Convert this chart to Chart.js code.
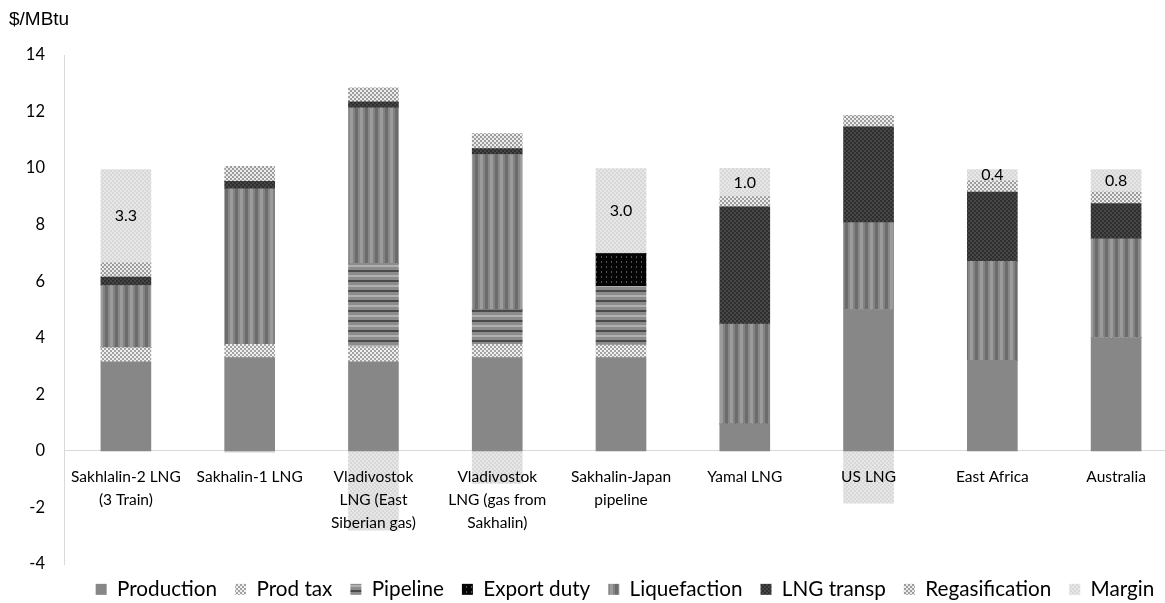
<!DOCTYPE html>
<html>
<head>
<meta charset="utf-8">
<script src="https://cdn.jsdelivr.net/npm/chart.js@4"></script>
<style>
  html, body { margin: 0; padding: 0; background: #fff; overflow: hidden; }
  #wrap { width: 1180px; height: 603px; }
</style>
</head>
<body>
<div id="wrap"><canvas id="costChart" width="1180" height="603"></canvas></div>
<script>
const categories = [
  ["Sakhlalin-2 LNG", "(3 Train)"],
  "Sakhalin-1 LNG",
  ["Vladivostok", "LNG (East", "Siberian gas)"],
  ["Vladivostok", "LNG (gas from", "Sakhalin)"],
  ["Sakhalin-Japan", "pipeline"],
  "Yamal LNG",
  "US LNG",
  "East Africa",
  "Australia",
];

const production   = [3.15, 3.3, 3.15, 3.3, 3.3, 0.95, 5.0, 3.2, 4.0];
const prodTax      = [0.5, 0.47, 0.53, 0.47, 0.44, 0, 0, 0, 0];
const pipeline     = [0, 0, 2.95, 1.23, 2.08, 0, 0, 0, 0];
const exportDuty   = [0, 0, 0, 0, 1.16, 0, 0, 0, 0];
const liquefaction = [2.2, 5.5, 5.5, 5.48, 0, 3.53, 3.07, 3.5, 3.5];
const lngTransp    = [0.3, 0.26, 0.21, 0.21, 0, 4.15, 3.39, 2.45, 1.25];
const regas        = [0.5, 0.53, 0.5, 0.53, 0, 0.36, 0.41, 0.4, 0.4];
const margin       = [3.3, -0.05, -2.8, -1.15, 3.0, 1.0, -1.85, 0.4, 0.8];

const yTicks = [-4, -2, 0, 2, 4, 6, 8, 10, 12, 14];

// small tile -> canvas pattern
function makePattern(w, h, draw) {
  const c = document.createElement("canvas");
  c.width = w; c.height = h;
  const g = c.getContext("2d");
  draw(g);
  return g.createPattern(c, "repeat");
}

function checker(size, a, b) {
  return makePattern(size * 2, size * 2, (g) => {
    g.fillStyle = a; g.fillRect(0, 0, size * 2, size * 2);
    g.fillStyle = b;
    g.fillRect(0, 0, size, size);
    g.fillRect(size, size, size, size);
  });
}

const fills = {
  production: "#878787",
  prodTax: checker(2, "#f0f0f0", "#a2a2a2"),
  pipeline: makePattern(4, 10, (g) => {
    g.fillStyle = "#8c8c8c"; g.fillRect(0, 0, 4, 10);
    g.fillStyle = "#4a4a4a"; g.fillRect(0, 0, 4, 2);
    g.fillStyle = "#b0b0b0"; g.fillRect(0, 5, 4, 2);
  }),
  exportDuty: makePattern(5, 5, (g) => {
    g.fillStyle = "#050505"; g.fillRect(0, 0, 5, 5);
    g.fillStyle = "#555555"; g.fillRect(1, 1, 1, 2);
  }),
  liquefaction: makePattern(10, 4, (g) => {
    g.fillStyle = "#9c9c9c"; g.fillRect(0, 0, 3, 4);
    g.fillStyle = "#828282"; g.fillRect(3, 0, 2, 4);
    g.fillStyle = "#6c6c6c"; g.fillRect(5, 0, 3, 4);
    g.fillStyle = "#888888"; g.fillRect(8, 0, 2, 4);
  }),
  lngTransp: checker(2, "#474747", "#2e2e2e"),
  regas: checker(2, "#ececec", "#9c9c9c"),
  margin: checker(2, "#e6e6e6", "#d8d8d8"),
};

const seriesList = [
  { label: "Production", data: production, fill: fills.production },
  { label: "Prod tax", data: prodTax, fill: fills.prodTax },
  { label: "Pipeline", data: pipeline, fill: fills.pipeline },
  { label: "Export duty", data: exportDuty, fill: fills.exportDuty },
  { label: "Liquefaction", data: liquefaction, fill: fills.liquefaction },
  { label: "LNG transp", data: lngTransp, fill: fills.lngTransp },
  { label: "Regasification", data: regas, fill: fills.regas },
  { label: "Margin", data: margin, fill: fills.margin },
];

// title "$/MBtu" in the top-left corner
const unitTitle = {
  id: "unitTitle",
  afterDraw(chart) {
    const ctx = chart.ctx;
    ctx.save();
    ctx.font = "19px 'Liberation Sans', Arial, sans-serif";
    ctx.fillStyle = "#000";
    ctx.textBaseline = "alphabetic";
    ctx.textAlign = "left";
    ctx.fillText("$/MBtu", 9, 25);
    ctx.restore();
  },
};

// value labels inside the positive margin segments
const marginLabels = {
  id: "marginLabels",
  afterDatasetsDraw(chart) {
    const idx = seriesList.length - 1;
    const meta = chart.getDatasetMeta(idx);
    const ctx = chart.ctx;
    ctx.save();
    ctx.font = "16px Lato, sans-serif";
    ctx.fillStyle = "#000";
    ctx.textAlign = "center";
    ctx.textBaseline = "middle";
    meta.data.forEach((bar, i) => {
      const v = margin[i];
      if (v <= 0) return;
      ctx.fillText(v.toFixed(1), bar.x, (bar.y + bar.base) / 2);
    });
    ctx.restore();
  },
};

// nudge the legend so it sits where the original one does
const legendShift = {
  id: "legendShift",
  afterLayout(chart) {
    const lg = chart.legend;
    lg.left += 36; lg.right += 36;
    lg.top -= 3; lg.bottom -= 3;
  },
};

document.addEventListener("DOMContentLoaded", () => {
  const ctx = document.getElementById("costChart").getContext("2d");
  new Chart(ctx, {
    type: "bar",
    data: {
      labels: categories,
      datasets: seriesList.map((s) => ({
        label: s.label,
        data: s.data,
        backgroundColor: s.fill,
        borderWidth: 0,
        barThickness: 50,
      })),
    },
    options: {
      responsive: false,
      animation: false,
      layout: { padding: { top: 55, left: 0, right: 2, bottom: 0 } },
      plugins: {
        legend: {
          position: "bottom",
          maxHeight: 39,
          labels: {
            boxWidth: 11,
            boxHeight: 11,
            padding: 18,
            color: "#000",
            font: { family: "Lato, sans-serif", size: 20.7 },
          },
        },
        tooltip: { enabled: false },
      },
      scales: {
        x: {
          stacked: true,
          position: { y: 0 },
          grid: { display: false, drawTicks: false },
          border: { display: true, color: "#d9d9d9", width: 1 },
          ticks: {
            z: 1,
            color: "#000",
            padding: 14,
            maxRotation: 0,
            autoSkip: false,
            font: { family: "Lato, sans-serif", size: 15.5, lineHeight: 1.5 },
          },
        },
        y: {
          stacked: true,
          min: yTicks[0],
          max: yTicks[yTicks.length - 1],
          afterBuildTicks(scale) {
            scale.ticks = yTicks.map((v) => ({ value: v }));
          },
          afterFit(scale) { scale.width = 64; },
          grid: { display: false, drawTicks: false },
          border: { display: true, color: "#d9d9d9", width: 1 },
          ticks: {
            color: "#000",
            padding: 19,
            font: { family: "Lato, sans-serif", size: 16.5 },
          },
        },
      },
    },
    plugins: [unitTitle, marginLabels, legendShift],
  });
});
</script>
</body>
</html>
